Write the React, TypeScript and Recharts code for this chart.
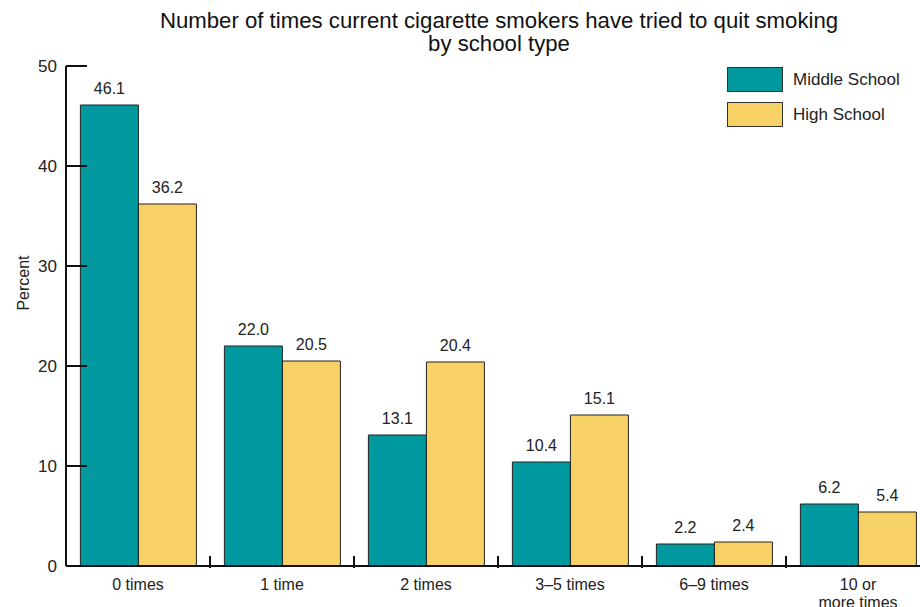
import React from "react";
import { Bar, BarChart, LabelList, XAxis, YAxis } from "recharts";

const categories = ["0 times", "1 time", "2 times", "3–5 times", "6–9 times", "10 or\nmore times"];
const middleSchool = [46.1, 22.0, 13.1, 10.4, 2.2, 6.2];
const highSchool = [36.2, 20.5, 20.4, 15.1, 2.4, 5.4];
const yTicks = [0, 10, 20, 30, 40, 50];

const data = categories.map((name, i) => ({
  name,
  middle: middleSchool[i],
  high: highSchool[i],
}));

const TEAL = "#00999f";
const YELLOW = "#f8d166";
const FONT = "'Liberation Sans', Arial, sans-serif";

const YTick = (props: any) => {
  const { x, y, payload } = props;
  return (
    <g>
      <line x1={x + 9} x2={x + 30} y1={y} y2={y} stroke="#111" strokeWidth={2} />
      <text x={x} y={y} dy={6} textAnchor="end" fontSize={17} fill="#222" fontFamily={FONT}>
        {payload.value}
      </text>
    </g>
  );
};

const XTick = (props: any) => {
  const { x, y, payload, width, index } = props;
  const band = width / categories.length;
  const lines = String(payload.value).split("\n");
  return (
    <g>
      {index > 0 && (
        <line x1={x - band / 2} x2={x - band / 2} y1={y - 12} y2={y} stroke="#111" strokeWidth={2} />
      )}
      <text x={x} y={y} textAnchor="middle" fontSize={16} fill="#222" fontFamily={FONT}>
        {lines.map((l, i) => (
          <tspan key={i} x={x} dy={i === 0 ? 22 : 18}>
            {l}
          </tspan>
        ))}
      </text>
    </g>
  );
};

const legendItems = [
  { label: "Middle School", color: TEAL },
  { label: "High School", color: YELLOW },
];

export default function App() {
  return (
    <div style={{ position: "fixed", left: 0, top: 0, width: 920, height: 607, overflow: "hidden", background: "#fff" }}>
      <div
        style={{
          position: "absolute",
          left: 0,
          width: 998,
          top: 9,
          textAlign: "center",
          fontFamily: FONT,
          fontSize: 22.2,
          lineHeight: "23px",
          color: "#111",
        }}
      >
        Number of times current cigarette smokers have tried to quit smoking
        <br />
        by school type
      </div>
      <div
        style={{
          position: "absolute",
          left: 24,
          top: 283,
          transform: "translate(-50%, -50%) rotate(-90deg)",
          fontFamily: FONT,
          fontSize: 16,
          color: "#222",
          whiteSpace: "nowrap",
        }}
      >
        Percent
      </div>
      <div
        style={{
          position: "absolute",
          left: 727,
          top: 62,
          fontFamily: FONT,
          fontSize: 17,
          color: "#222",
          zIndex: 2,
        }}
      >
        {legendItems.map((it) => (
          <div key={it.label} style={{ display: "flex", alignItems: "center", height: 35 }}>
            <div
              style={{
                width: 54,
                height: 23,
                background: it.color,
                border: "1px solid #333",
                marginRight: 10,
              }}
            />
            <span>{it.label}</span>
          </div>
        ))}
      </div>
      <BarChart
        width={930}
        height={607}
        data={data}
        margin={{ top: 66, right: 0, bottom: 0, left: 0 }}
        barCategoryGap="10%"
        barGap={0}
      >
        <XAxis
          dataKey="name"
          height={41}
          tickSize={0}
          tickLine={false}
          axisLine={{ stroke: "#111", strokeWidth: 2 }}
          tick={<XTick />}
          interval={0}
        />
        <YAxis
          width={66}
          domain={[0, 50]}
          ticks={yTicks}
          tickSize={0}
          tickMargin={9}
          tickLine={false}
          axisLine={{ stroke: "#111", strokeWidth: 2 }}
          tick={<YTick />}
        />
        <Bar dataKey="middle" name="Middle School" fill={TEAL} stroke="#222" strokeWidth={1} isAnimationActive={false}>
          <LabelList dataKey="middle" position="top" offset={11} fontSize={16} fill="#222" fontFamily={FONT} formatter={(v: any) => Number(v).toFixed(1)} />
        </Bar>
        <Bar dataKey="high" name="High School" fill={YELLOW} stroke="#222" strokeWidth={1} isAnimationActive={false}>
          <LabelList dataKey="high" position="top" offset={11} fontSize={16} fill="#222" fontFamily={FONT} formatter={(v: any) => Number(v).toFixed(1)} />
        </Bar>
      </BarChart>
    </div>
  );
}
